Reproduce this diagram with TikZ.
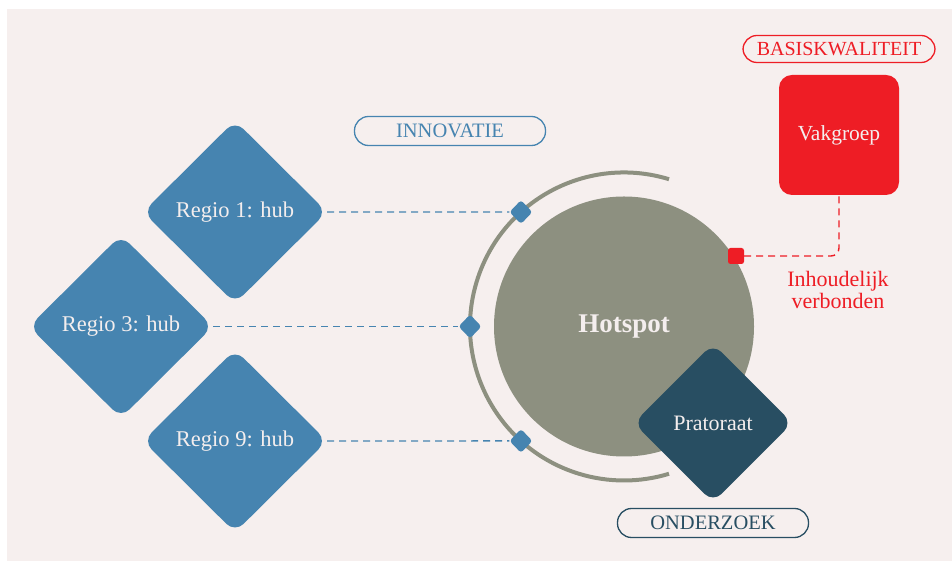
\documentclass[tikz,border=0pt]{standalone}
\usepackage{fontspec}
\setmainfont{Liberation Serif}
\usetikzlibrary{shapes.geometric, positioning}
\definecolor{bgpink}{HTML}{F6EFEE}
\definecolor{hubblue}{HTML}{4684B0}
\definecolor{hotgrey}{HTML}{8D9080}
\definecolor{pratblue}{HTML}{284E62}
\definecolor{vakred}{HTML}{EE1D25}
\definecolor{paletext}{HTML}{F4EEEE}

\begin{document}
\begin{tikzpicture}[x=1pt, y=1pt,
    hub/.style={diamond, fill=hubblue, rounded corners=12pt, inner sep=0pt,
      minimum width=184pt, minimum height=183pt, text=paletext,
      font=\fontsize{22.5}{26}\selectfont},
    knob/.style={diamond, fill=hubblue, rounded corners=3pt, inner sep=0pt,
      minimum width=23pt, minimum height=24pt},
    pill/.style={draw, rounded corners=14pt, line width=1.3pt, inner sep=0pt,
      minimum width=191pt, minimum height=29pt,
      font=\fontsize{20.5}{24}\selectfont},
    link/.style={dash pattern=on 7pt off 5pt, line width=1.4pt}]

   \useasboundingbox (0,0) rectangle (952,561);
   \fill[bgpink] (7,0) rectangle (952,552);

   % hotspot with its ring
   \node[circle, fill=hotgrey, minimum size=260pt, inner sep=0pt, text=paletext,
     font=\bfseries\fontsize{27}{31}\selectfont] (hot) at (624,234.5) {Hotspot};
   \draw[hotgrey, line width=4pt] ([shift={(73:154)}]hot.center)
     arc[start angle=73, end angle=287, radius=154];
   \node[diamond, fill=pratblue, rounded corners=12pt, inner sep=0pt,
     minimum width=159pt, minimum height=159pt, text=paletext,
     font=\fontsize{22}{26}\selectfont] (prat) at (713,138) {Pratoraat};

   % hubs
   \node[hub] (hub1) at (235,349) {Regio 1: hub};
   \node[hub] (hub3) at (121,234.5) {Regio 3: hub};
   \node[hub] (hub9) at (235,120) {Regio 9: hub};

   \node[knob] (k1) at ([shift={(132:154)}]hot.center) {};
   \node[knob] (k3) at ([shift={(180:154)}]hot.center) {};
   \node[knob] (k9) at ([shift={(228:154)}]hot.center) {};

   \draw[link, hubblue] (hub1.east) -- (k1.west);
   \draw[link, hubblue] (hub3.east) -- (k3.west);
   \draw[link, hubblue] (hub9.east) -- (k9.west);

   % labels
   \node[pill, hubblue] (innov) at (450,430) {INNOVATIE};
   \node[pill, pratblue] (onder) at (713,38) {ONDERZOEK};
   \node[pill, vakred, minimum width=192pt, minimum height=27pt,
     font=\fontsize{20}{24}\selectfont] (basis) at (839,512) {BASISKWALITEIT};

   % vakgroep
   \node[fill=vakred, rounded corners=13pt, minimum width=120pt, minimum height=120pt,
     text=paletext, font=\fontsize{21.5}{25}\selectfont] (vak) at (839,426) {Vakgroep};
   \node[fill=vakred, rounded corners=2.5pt, minimum size=16pt, inner sep=0pt] (tag) at (736,305) {};
   \draw[link, vakred, rounded corners=8pt] (tag.east) -| (vak.south);
   \node[text=vakred, align=center, font=\fontsize{22}{21.5}\selectfont] (verb) at (838,271)
     {Inhoudelijk\\verbonden};
\end{tikzpicture}
\end{document}
